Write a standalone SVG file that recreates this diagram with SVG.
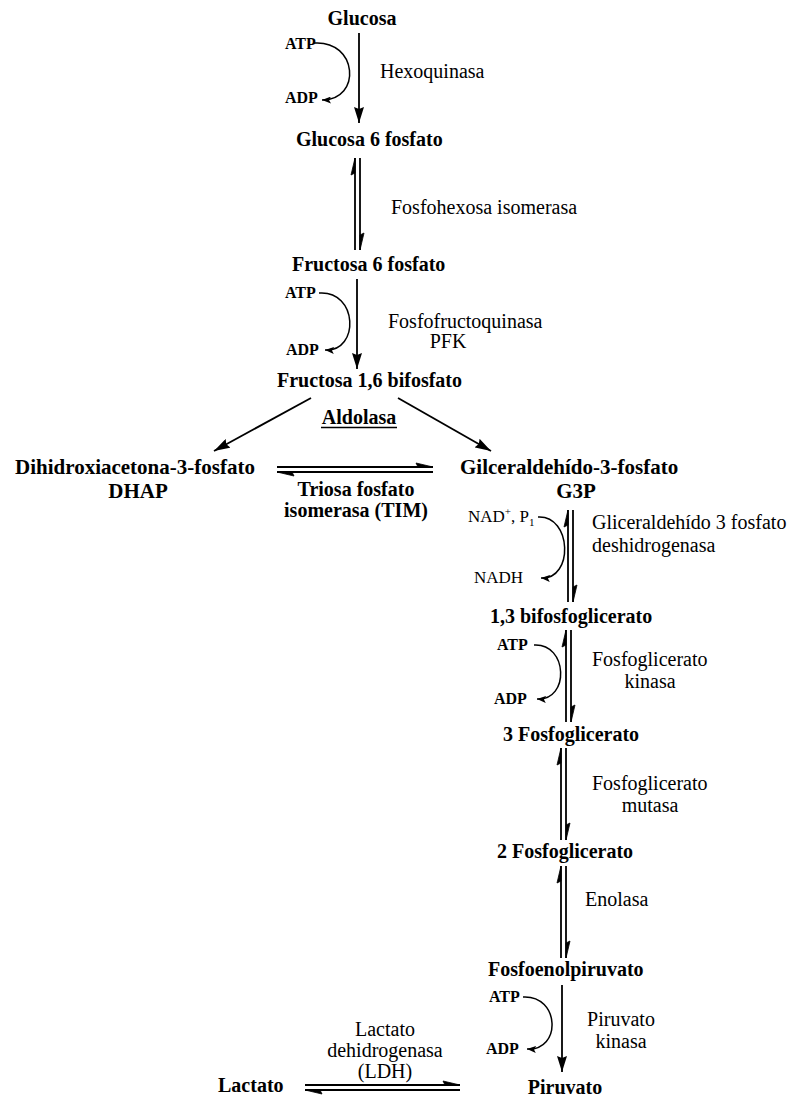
<svg xmlns="http://www.w3.org/2000/svg" width="792" height="1099" viewBox="0 0 792 1099">
  <style>
    text { font-family: "Liberation Serif", "Times New Roman", serif; fill: #000; }
    .met { font-size: 20px; font-weight: bold; }
    .big { font-size: 21px; }
    .enz { font-size: 20px; }
    .cof { font-size: 16px; font-weight: bold; }
    .nad { font-size: 17px; }
    .mid { text-anchor: middle; }
    .ln { stroke: #000; stroke-width: 1.8; fill: none; }
    .cv { stroke: #000; stroke-width: 1.5; fill: none; }
    .barb { fill: #000; stroke: #000; stroke-width: 0.8; stroke-linejoin: miter; }
  </style>
  <defs>
    <marker id="head" viewBox="0 0 16 10" refX="16" refY="5" markerWidth="16" markerHeight="10" markerUnits="userSpaceOnUse" orient="auto">
      <path d="M0,0 L16,5 L0,10 L2,5 Z" fill="#000"/>
    </marker>
    <marker id="small" viewBox="0 0 9 7" refX="9" refY="3.5" markerWidth="9" markerHeight="7" markerUnits="userSpaceOnUse" orient="auto">
      <path d="M0,0 L9,3.5 L0,7 L2,3.5 Z" fill="#000"/>
    </marker>
  </defs>
  <rect width="792" height="1099" fill="#fff"/>

  <!-- connectors -->
  <g id="connectors">
    <!-- Glucosa -> Glucosa 6 fosfato -->
    <line class="ln" x1="359" y1="33" x2="359" y2="123" marker-end="url(#head)"/>
    <path class="cv" d="M314,43 C358,40 362,100 322,100" marker-end="url(#small)"/>

    <!-- Glucosa 6 fosfato <=> Fructosa 6 fosfato -->
    <line class="ln" x1="355" y1="158" x2="355" y2="250"/>
    <path class="barb" d="M355,158 L351,175 L355,173 Z"/>
    <line class="ln" x1="360" y1="158" x2="360" y2="250"/>
    <path class="barb" d="M360,250 L364,233 L360,235 Z"/>

    <!-- Fructosa 6 fosfato -> Fructosa 1,6 bifosfato -->
    <line class="ln" x1="357" y1="279" x2="357" y2="369" marker-end="url(#head)"/>
    <path class="cv" d="M319,293 C358,290 360,352 325,350" marker-end="url(#small)"/>

    <!-- Aldolasa split -->
    <line class="ln" x1="311" y1="398" x2="214" y2="451" marker-end="url(#head)"/>
    <line class="ln" x1="398" y1="398" x2="491" y2="451" marker-end="url(#head)"/>

    <!-- DHAP <=> G3P -->
    <line class="ln" x1="277" y1="467" x2="433" y2="467"/>
    <path class="barb" d="M433,467 L416,463 L418,467 Z"/>
    <line class="ln" x1="277" y1="472" x2="433" y2="472"/>
    <path class="barb" d="M277,472 L294,476 L292,472 Z"/>

    <!-- G3P <=> 1,3 bifosfoglicerato -->
    <line class="ln" x1="568" y1="510" x2="568" y2="602"/>
    <path class="barb" d="M568,510 L564,527 L568,525 Z"/>
    <line class="ln" x1="573" y1="510" x2="573" y2="602"/>
    <path class="barb" d="M573,602 L577,585 L573,587 Z"/>
    <path class="cv" d="M538,517 C572,515 574,580 541,578" marker-end="url(#small)"/>

    <!-- 1,3 bifosfoglicerato <=> 3 Fosfoglicerato -->
    <line class="ln" x1="566" y1="630" x2="566" y2="722"/>
    <path class="barb" d="M566,630 L562,647 L566,645 Z"/>
    <line class="ln" x1="571" y1="630" x2="571" y2="722"/>
    <path class="barb" d="M571,722 L575,705 L571,707 Z"/>
    <path class="cv" d="M534,645 C568,643 570,701 537,699" marker-end="url(#small)"/>

    <!-- 3 Fosfoglicerato <=> 2 Fosfoglicerato -->
    <line class="ln" x1="561" y1="748" x2="561" y2="840"/>
    <path class="barb" d="M561,748 L557,765 L561,763 Z"/>
    <line class="ln" x1="566" y1="748" x2="566" y2="840"/>
    <path class="barb" d="M566,840 L570,823 L566,825 Z"/>

    <!-- 2 Fosfoglicerato <=> Fosfoenolpiruvato -->
    <line class="ln" x1="561" y1="866" x2="561" y2="958"/>
    <path class="barb" d="M561,866 L557,883 L561,881 Z"/>
    <line class="ln" x1="566" y1="866" x2="566" y2="958"/>
    <path class="barb" d="M566,958 L570,941 L566,943 Z"/>

    <!-- Fosfoenolpiruvato -> Piruvato -->
    <line class="ln" x1="562" y1="985" x2="562" y2="1072" marker-end="url(#head)"/>
    <path class="cv" d="M523,997 C560,995 562,1051 527,1049" marker-end="url(#small)"/>

    <!-- Lactato <=> Piruvato -->
    <line class="ln" x1="305" y1="1085" x2="460" y2="1085"/>
    <path class="barb" d="M460,1085 L443,1081 L445,1085 Z"/>
    <line class="ln" x1="305" y1="1090" x2="460" y2="1090"/>
    <path class="barb" d="M305,1090 L322,1094 L320,1090 Z"/>
  </g>

  <!-- metabolites -->
  <g id="glucosa"><text class="met mid" x="362" y="25">Glucosa</text></g>
  <g id="glucosa6p"><text class="met" x="296" y="146">Glucosa 6 fosfato</text></g>
  <g id="fructosa6p"><text class="met" x="292" y="271">Fructosa 6 fosfato</text></g>
  <g id="fructosa16bp"><text class="met" x="277" y="387">Fructosa 1,6 bifosfato</text></g>
  <g id="dhap">
    <text class="met big" x="15" y="474">Dihidroxiacetona-3-fosfato</text>
    <text class="met big mid" x="138" y="498">DHAP</text>
  </g>
  <g id="g3p">
    <text class="met big" x="460" y="474">Gilceraldehído-3-fosfato</text>
    <text class="met big mid" x="576" y="498">G3P</text>
  </g>
  <g id="bpg13"><text class="met" x="490" y="623">1,3 bifosfoglicerato</text></g>
  <g id="pg3"><text class="met" x="503" y="741">3 Fosfoglicerato</text></g>
  <g id="pg2"><text class="met" x="497" y="858">2 Fosfoglicerato</text></g>
  <g id="pep"><text class="met" x="488" y="976">Fosfoenolpiruvato</text></g>
  <g id="piruvato"><text class="met mid" x="565" y="1094">Piruvato</text></g>
  <g id="lactato"><text class="met" x="218" y="1092">Lactato</text></g>

  <!-- cofactors -->
  <g id="cofactors">
    <text class="cof" x="285" y="49">ATP</text>
    <text class="cof" x="285" y="103">ADP</text>
    <text class="cof" x="285" y="298">ATP</text>
    <text class="cof" x="286" y="355">ADP</text>
    <text class="nad" x="468" y="522">NAD<tspan font-size="11" dy="-7">+</tspan><tspan dy="7">, P</tspan><tspan font-size="11" dy="4">1</tspan></text>
    <text class="nad" x="474" y="583">NADH</text>
    <text class="cof" x="497" y="650">ATP</text>
    <text class="cof" x="494" y="704">ADP</text>
    <text class="cof" x="489" y="1002">ATP</text>
    <text class="cof" x="486" y="1054">ADP</text>
  </g>

  <!-- enzymes -->
  <g id="enzymes">
    <text class="enz" x="380" y="78">Hexoquinasa</text>
    <text class="enz" x="391" y="214">Fosfohexosa isomerasa</text>
    <text class="enz" x="388" y="328">Fosfofructoquinasa</text>
    <text class="enz mid" x="448" y="348">PFK</text>
    <g id="aldolasa">
      <text class="met mid" x="359" y="424">Aldolasa</text>
      <line x1="321" y1="427.5" x2="397" y2="427.5" stroke="#000" stroke-width="1.5"/>
    </g>
    <text class="met mid" x="356" y="496">Triosa fosfato</text>
    <text class="met mid" x="356" y="517">isomerasa (TIM)</text>
    <text class="enz" x="592" y="529">Gliceraldehído 3 fosfato</text>
    <text class="enz" x="592" y="552">deshidrogenasa</text>
    <text class="enz" x="592" y="666">Fosfoglicerato</text>
    <text class="enz mid" x="650" y="688">kinasa</text>
    <text class="enz" x="592" y="790">Fosfoglicerato</text>
    <text class="enz mid" x="650" y="812">mutasa</text>
    <text class="enz" x="585" y="906">Enolasa</text>
    <text class="enz mid" x="621" y="1026">Piruvato</text>
    <text class="enz mid" x="621" y="1048">kinasa</text>
    <text class="enz mid" x="385" y="1036">Lactato</text>
    <text class="enz mid" x="385" y="1057">dehidrogenasa</text>
    <text class="enz mid" x="385" y="1078">(LDH)</text>
  </g>
</svg>
